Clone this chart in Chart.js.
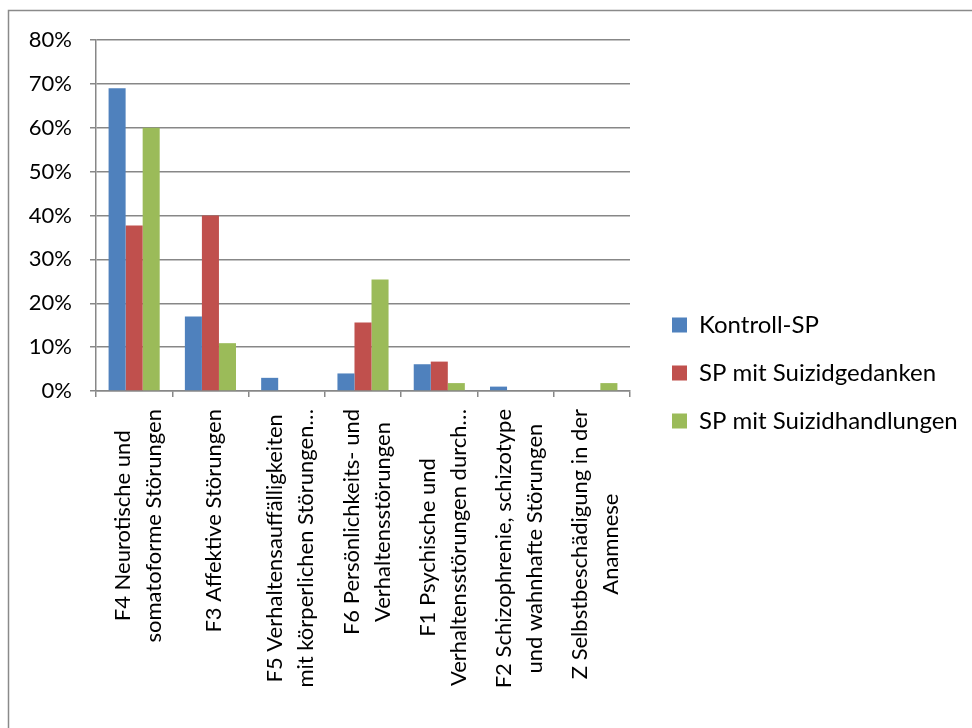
<!DOCTYPE html>
<html>
<head>
<meta charset="utf-8">
<script src="https://cdn.jsdelivr.net/npm/chart.js@4.4.0/dist/chart.umd.min.js"></script>
<style>
  html, body { margin: 0; padding: 0; background: #fff; overflow: hidden; }
  #wrap { width: 972px; height: 728px; position: relative; }
</style>
</head>
<body>
<div id="wrap"><canvas id="myChart"></canvas></div>
<script>
// categories, two lines each as in the original axis
var categoryLines = [
  ['F4 Neurotische und', 'somatoforme Störungen'],
  ['F3 Affektive Störungen'],
  ['F5 Verhaltensauffälligkeiten', 'mit körperlichen Störungen…'],
  ['F6 Persönlichkeits- und', 'Verhaltensstörungen'],
  ['F1 Psychische und', 'Verhaltensstörungen durch…'],
  ['F2 Schizophrenie, schizotype', 'und wahnhafte Störungen'],
  ['Z Selbstbeschädigung in der', 'Anamnese']
];
var categories = categoryLines.map(function (l) { return l.join(' '); });

var seriesNames = ['Kontroll-SP', 'SP mit Suizidgedanken', 'SP mit Suizidhandlungen'];
var kontroll   = [69, 17, 3, 4, 6.1, 1, 0];
var gedanken   = [37.7, 40, 0, 15.6, 6.7, 0, 0];
var handlungen = [60, 10.9, 0, 25.4, 1.8, 0, 1.8];

var yTicks = [0, 10, 20, 30, 40, 50, 60, 70, 80];

var FONT = 'Lato';
var GRID = '#878787';
var LEG_SIZE = 24, LEG_PAD = 24, LEG_BOX = 15;
var PLOT_RIGHT = 628, LEG_X = 670;

Chart.defaults.font.family = FONT;
Chart.defaults.color = '#000';

// legend width, so the plot ends at PLOT_RIGHT and the legend boxes start at LEG_X
var mctx = document.createElement('canvas').getContext('2d');
mctx.font = LEG_SIZE + 'px ' + FONT;
var legText = 0;
seriesNames.forEach(function (n) { legText = Math.max(legText, mctx.measureText(n).width); });
var legWidth = LEG_BOX + LEG_SIZE + legText + LEG_PAD;
var rightPad = 972 - (LEG_X - LEG_PAD) - legWidth;
var gapWidth = Math.max(0, LEG_X - LEG_PAD - PLOT_RIGHT);

// rotated, centred two-line category labels like Excel
var xLabels = {
  id: 'xLabels',
  afterDraw: function (chart) {
    var ctx = chart.ctx, x = chart.scales.x;
    ctx.save();
    ctx.font = '22px ' + FONT;
    ctx.fillStyle = '#000';
    ctx.textAlign = 'center';
    ctx.textBaseline = 'alphabetic';
    categoryLines.forEach(function (lines, i) {
      var cx = x.getPixelForValue(i);
      var maxW = 0;
      lines.forEach(function (t) { maxW = Math.max(maxW, ctx.measureText(t).width); });
      var cy = x.top + 18 + maxW / 2;
      lines.forEach(function (t, j) {
        var bx = cx + 11 + (j - (lines.length - 1) / 2) * 31;
        ctx.save();
        ctx.translate(bx, cy);
        ctx.rotate(-Math.PI / 2);
        ctx.fillText(t, 0, 0);
        ctx.restore();
      });
    });
    ctx.restore();
  }
};

var frame = {
  id: 'frame',
  afterDraw: function (chart) {
    var ctx = chart.ctx;
    ctx.save();
    ctx.strokeStyle = '#8a8a8a';
    ctx.lineWidth = 1.5;
    ctx.strokeRect(8.5, 10.5, 1000, 800);
    ctx.restore();
  }
};

new Chart('myChart', {
  type: 'bar',
  data: {
    labels: categories,
    datasets: [{
      label: seriesNames[0],
      data: kontroll,
      backgroundColor: '#4F81BD'
    }, {
      label: seriesNames[1],
      data: gedanken,
      backgroundColor: '#C0504D'
    }, {
      label: seriesNames[2],
      data: handlungen,
      backgroundColor: '#9BBB59'
    }]
  },
  options: {
    responsive: true,
    maintainAspectRatio: false,
    animation: false,
    datasets: { bar: { categoryPercentage: 0.67, barPercentage: 1.0 } },
    layout: { padding: { top: 40, bottom: 22, left: 0, right: rightPad } },
    plugins: {
      tooltip: { enabled: false },
      legend: {
        position: 'right',
        maxWidth: 500,
        labels: {
          font: { size: LEG_SIZE, family: FONT },
          color: '#000',
          boxWidth: LEG_BOX,
          boxHeight: LEG_BOX,
          padding: LEG_PAD
        }
      }
    },
    scales: {
      x: {
        ticks: { display: false },
        grid: { drawOnChartArea: false, drawTicks: true, tickLength: 6, color: GRID, lineWidth: 1.5, offset: true },
        border: { color: GRID, width: 1.5 },
        afterFit: function (s) { s.height = 315; }
      },
      y: {
        min: 0,
        max: 80,
        afterBuildTicks: function (s) { s.ticks = yTicks.map(function (v) { return { value: v }; }); },
        ticks: {
          font: { size: 22, family: FONT },
          color: '#000',
          padding: 18,
          callback: function (v) { return v + '%'; }
        },
        grid: { color: GRID, lineWidth: 1.5, tickLength: 6 },
        border: { color: GRID, width: 1.5 },
        afterFit: function (s) { s.width = 96; }
      },
      gap: {
        type: 'linear',
        position: 'right',
        display: true,
        ticks: { display: false },
        grid: { display: false },
        border: { display: false },
        afterFit: function (s) { s.width = gapWidth; }
      }
    }
  },
  plugins: [xLabels, frame]
});
</script>
</body>
</html>
